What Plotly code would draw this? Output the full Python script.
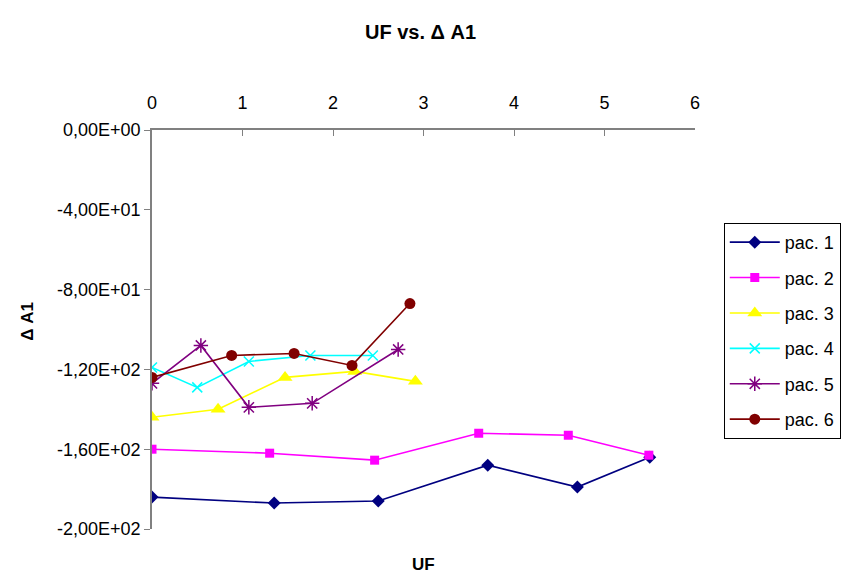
import plotly.graph_objects as go

names = ["pac. 1", "pac. 2", "pac. 3", "pac. 4", "pac. 5", "pac. 6"]
uf_1 = [0, 1.35, 2.50, 3.71, 4.70, 5.50]
da1_1 = [-184, -187, -186, -168, -179, -164]
uf_2 = [0, 1.30, 2.46, 3.61, 4.60, 5.49]
da1_2 = [-160, -162, -165.5, -152, -153, -163]
uf_3 = [0, 0.73, 1.47, 2.24, 2.91]
da1_3 = [-144, -140, -124, -121, -126]
uf_4 = [0, 0.50, 1.07, 1.75, 2.44]
da1_4 = [-119, -129, -116, -113, -113]
uf_5 = [0, 0.54, 1.07, 1.77, 2.72]
da1_5 = [-127, -108, -139, -137, -110]
uf_6 = [0, 0.88, 1.57, 2.21, 2.85]
da1_6 = [-124, -113, -112, -118, -87]

y_tickvals = [0, -40, -80, -120, -160, -200]
y_ticktext = ["0,00E+00", "-4,00E+01", "-8,00E+01", "-1,20E+02", "-1,60E+02", "-2,00E+02"]
x_tickvals = [0, 1, 2, 3, 4, 5, 6]

xs = [uf_1, uf_2, uf_3, uf_4, uf_5, uf_6]
ys = [da1_1, da1_2, da1_3, da1_4, da1_5, da1_6]
colors = ["#000080", "#FF00FF", "#FFFF00", "#00FFFF", "#800080", "#800000"]
symbols = ["diamond", "square", "triangle-up", "x-thin-open", "asterisk-open", "circle"]
sizes = [10, 9, 13, 10, 12, 11]

fig = go.Figure()
for i in range(6):
    marker = dict(symbol=symbols[i], size=sizes[i], color=colors[i])
    if symbols[i].endswith("open"):
        marker["line"] = dict(color=colors[i], width=1.5)
    fig.add_trace(go.Scatter(
        x=xs[i], y=ys[i], mode="lines+markers", name=names[i],
        legendgroup=f"g{i}",
        line=dict(color=colors[i], width=1.6),
        marker=marker,
    ))

fig.update_layout(
    width=841, height=574,
    margin=dict(l=152, r=146, t=130, b=45, autoexpand=False),
    paper_bgcolor="white", plot_bgcolor="white",
    font=dict(family="Liberation Sans, Arial, sans-serif", size=18, color="#000000"),
    title=dict(text="<b>UF vs. Δ A1</b>", x=0.5, xref="container", y=0.945, yanchor="middle",
               font=dict(size=20)),
    xaxis=dict(range=[0, 6], tickvals=x_tickvals, side="top", showgrid=False, zeroline=False,
               showline=True, linecolor="#808080", linewidth=1.5,
               ticks="inside", ticklen=6, tickcolor="#808080", ticklabelstandoff=12,
               tickfont=dict(size=18)),
    yaxis=dict(range=[-200, 0], tickvals=y_tickvals, ticktext=y_ticktext, showgrid=False,
               zeroline=False, showline=True, linecolor="#808080", linewidth=1.5,
               ticks="outside", ticklen=6, tickcolor="#808080", tickfont=dict(size=18)),
    legend=dict(x=1.053, y=0.767, xanchor="left", yanchor="top",
                bordercolor="#000000", borderwidth=1, bgcolor="white",
                tracegroupgap=9, itemwidth=50, font=dict(size=18)),
    showlegend=True,
)

fig.add_annotation(text="<b>UF</b>", xref="paper", yref="paper", x=0.5, y=-0.09,
                   showarrow=False, yanchor="middle", font=dict(size=17))
fig.add_annotation(text="<b>Δ A1</b>", xref="paper", yref="paper", x=-0.23, y=0.52,
                   showarrow=False, textangle=-90, xanchor="center", yanchor="middle",
                   font=dict(size=17))

fig.write_html("out.html")
